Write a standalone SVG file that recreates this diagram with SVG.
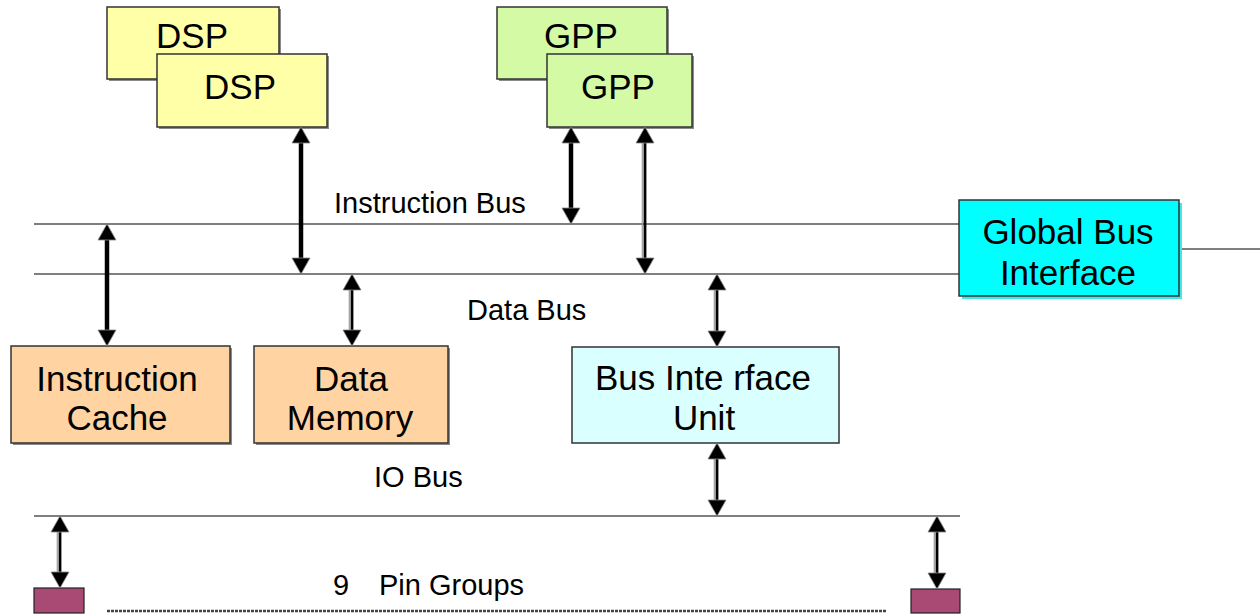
<svg xmlns="http://www.w3.org/2000/svg" width="1260" height="615" viewBox="0 0 1260 615">
  <style>
    .box { stroke: #333; stroke-width: 1.5; }
    .shadow { fill: #8a8a8a; }
    .big { font-family: "Liberation Sans", Arial, sans-serif; font-size: 35px; fill: #000; text-anchor: middle; }
    .lbl { font-family: "Liberation Sans", Arial, sans-serif; font-size: 29px; fill: #000; }
    .bus { stroke: #555; stroke-width: 1.5; fill: none; }
    .thick { stroke: #000; stroke-width: 4.5; fill: none; }
    .dbl-dark { stroke: #000; stroke-width: 2.8; fill: none; }
    .dbl-light { stroke: #9a9a9a; stroke-width: 1.2; fill: none; }
    .pin { fill: #a84a74; stroke: #222; stroke-width: 1.2; }
  </style>
  <defs>
    <marker id="head" viewBox="0 -10 16 20" markerWidth="16" markerHeight="20" refX="0" refY="0" markerUnits="userSpaceOnUse" orient="auto-start-reverse" overflow="visible">
      <path d="M0,-9 L16,0 L0,9 Z" fill="#000" stroke="#888" stroke-width="0.8"/>
    </marker>
  </defs>

  <rect width="1260" height="615" fill="#fff"/>

  <!-- bus lines -->
  <g id="buses">
    <line class="bus" x1="34" y1="224" x2="959" y2="224"/>
    <line class="bus" x1="34" y1="274" x2="959" y2="274"/>
    <line class="bus" x1="1180" y1="249" x2="1260" y2="249"/>
    <line class="bus" x1="34" y1="516" x2="960" y2="516"/>
    <line x1="107" y1="611" x2="887" y2="611" stroke="#444" stroke-width="2.5" stroke-dasharray="3 1"/>
  </g>

  <!-- processor blocks -->
  <g id="dsp-back">
    <rect class="shadow" x="109" y="9" width="172" height="72"/>
    <rect class="box" x="107" y="7" width="172" height="72" fill="#ffffa8"/>
    <text class="big" x="192" y="48">DSP</text>
  </g>
  <g id="dsp-front">
    <rect class="shadow" x="159" y="56" width="170" height="73"/>
    <rect class="box" x="157" y="54" width="170" height="73" fill="#ffffa8"/>
    <text class="big" x="240" y="99">DSP</text>
  </g>
  <g id="gpp-back">
    <rect class="shadow" x="499" y="9" width="170" height="72"/>
    <rect class="box" x="497" y="7" width="170" height="72" fill="#d4faa6"/>
    <text class="big" x="581" y="48">GPP</text>
  </g>
  <g id="gpp-front">
    <rect class="shadow" x="549" y="56" width="145" height="73"/>
    <rect class="box" x="547" y="54" width="145" height="73" fill="#d4faa6"/>
    <text class="big" x="618" y="99">GPP</text>
  </g>

  <!-- memory and interface blocks -->
  <g id="instruction-cache">
    <rect class="shadow" x="13" y="348" width="219" height="97"/>
    <rect class="box" x="11" y="346" width="219" height="97" fill="#ffd3a2"/>
    <text class="big" x="117" y="391">Instruction</text>
    <text class="big" x="117" y="430">Cache</text>
  </g>
  <g id="data-memory">
    <clipPath id="dm-clip"><rect x="254" y="346" width="194" height="97"/></clipPath>
    <rect class="shadow" x="256" y="348" width="194" height="97"/>
    <rect class="box" x="254" y="346" width="194" height="97" fill="#ffd3a2"/>
    <g clip-path="url(#dm-clip)">
      <text class="big" x="351" y="391">Data</text>
      <text class="big" x="350" y="430">Memory</text>
    </g>
  </g>
  <g id="bus-interface-unit">
    <rect class="box" x="572" y="347" width="267" height="96" fill="#d9ffff"/>
    <text class="big" x="703" y="390">Bus Inte rface</text>
    <text class="big" x="704" y="430">Unit</text>
  </g>
  <g id="global-bus-interface">
    <rect x="962" y="203" width="220" height="96" fill="#40e8e8"/>
    <rect class="box" x="959" y="200" width="220" height="96" fill="#00ffff"/>
    <text class="big" x="1068" y="244">Global Bus</text>
    <text class="big" x="1068" y="285">Interface</text>
  </g>

  <!-- pin groups -->
  <g id="pin-left">
    <rect class="pin" x="34" y="588" width="50" height="25"/>
  </g>
  <g id="pin-right">
    <rect class="pin" x="911" y="589" width="49" height="24"/>
  </g>

  <!-- labels -->
  <g id="labels">
    <text class="lbl" x="334" y="213">Instruction Bus</text>
    <text class="lbl" x="467" y="320">Data Bus</text>
    <text class="lbl" x="374" y="487">IO Bus</text>
    <text class="lbl" x="333" y="595">9</text>
    <text class="lbl" x="379" y="595">Pin Groups</text>
  </g>

  <!-- connectors: shafts end at the arrow bases, heads drawn by the marker -->
  <g id="connectors">
    <!-- solid shafts -->
    <line class="thick" x1="107" y1="240" x2="107" y2="330" marker-start="url(#head)" marker-end="url(#head)"/>
    <line class="thick" x1="301" y1="143" x2="301" y2="258" marker-start="url(#head)" marker-end="url(#head)"/>
    <line class="thick" x1="571" y1="143" x2="571" y2="208" marker-start="url(#head)" marker-end="url(#head)"/>
    <!-- two-tone shafts -->
    <g>
      <line class="dbl-dark" x1="352" y1="290" x2="352" y2="330" marker-start="url(#head)" marker-end="url(#head)"/>
      <line class="dbl-light" x1="349.3" y1="290" x2="349.3" y2="330"/>
    </g>
    <g>
      <line class="dbl-dark" x1="645" y1="143" x2="645" y2="258" marker-start="url(#head)" marker-end="url(#head)"/>
      <line class="dbl-light" x1="642.3" y1="143" x2="642.3" y2="258"/>
    </g>
    <g>
      <line class="dbl-dark" x1="717" y1="290" x2="717" y2="331" marker-start="url(#head)" marker-end="url(#head)"/>
      <line class="dbl-light" x1="714.3" y1="290" x2="714.3" y2="331"/>
    </g>
    <g>
      <line class="dbl-dark" x1="717" y1="459" x2="717" y2="500" marker-start="url(#head)" marker-end="url(#head)"/>
      <line class="dbl-light" x1="714.3" y1="459" x2="714.3" y2="500"/>
    </g>
    <g>
      <line class="dbl-dark" x1="60" y1="532" x2="60" y2="572" marker-start="url(#head)" marker-end="url(#head)"/>
      <line class="dbl-light" x1="57.3" y1="532" x2="57.3" y2="572"/>
    </g>
    <g>
      <line class="dbl-dark" x1="937" y1="532" x2="937" y2="573" marker-start="url(#head)" marker-end="url(#head)"/>
      <line class="dbl-light" x1="934.3" y1="532" x2="934.3" y2="573"/>
    </g>
  </g>
</svg>
